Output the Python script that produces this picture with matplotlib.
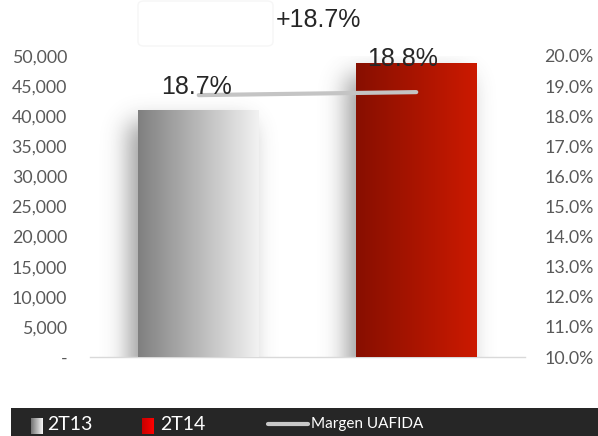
import numpy as np
import matplotlib
matplotlib.use("Agg")
import matplotlib.pyplot as plt
from matplotlib.patches import Rectangle, FancyBboxPatch
from matplotlib.ticker import FuncFormatter, MultipleLocator
from math import erf

# ---- data ----
categories = ["2T13", "2T14"]
uafida = [41000, 48700]
margin = [0.187, 0.188]
margin_labels = ["18.7%", "18.8%"]
growth_label = "+18.7%"
line_label = "Margen UAFIDA"

W, H = 598, 436
fig = plt.figure(figsize=(W / 100, H / 100), dpi=100)
fig.patch.set_facecolor("white")

def fx(px):
    return px / W

def fy(py):
    return 1 - py / H

ax = fig.add_axes([fx(90), fy(357), fx(525) - fx(90), fy(56) - fy(357)])
ax.set_xlim(-0.5, 1.5)
ax.set_ylim(0, 50000)
ax.set_facecolor("none")
for s in ["top", "right", "left"]:
    ax.spines[s].set_visible(False)
ax.spines["bottom"].set_color("#d9d9d9")
ax.spines["bottom"].set_linewidth(1)
ax.set_xticks([])
ax.yaxis.set_major_locator(MultipleLocator(5000))
ax.yaxis.set_major_formatter(FuncFormatter(lambda v, p: "-" if v == 0 else f"{v:,.0f}"))
ax.tick_params(axis="y", length=0, pad=16.5, labelsize=12.8, labelcolor="#595959")
for t in ax.get_yticklabels():
    t.set_fontfamily("Lato")

x = np.arange(len(categories))
bw = 0.555
bars = ax.bar(x, uafida, width=bw, color="none", edgecolor="none", zorder=3)

grad_colors = [((0.50, 0.50, 0.50), (0.95, 0.95, 0.95)),
               ((0.53, 0.06, 0.0), (0.80, 0.10, 0.0))]

def Phi(z):
    return 0.5 * (1 + np.vectorize(erf)(z / np.sqrt(2)))

pxx = 217.5  # pixels per x unit
pxy = 301.0 / 50000.0  # pixels per y unit

for b, (c0, c1) in zip(bars, grad_colors):
    x0, x1 = b.get_x(), b.get_x() + b.get_width()
    h = b.get_height()
    # soft shadow (blurred rectangle shifted left)
    sig = 12.0 / pxx
    sigy = 12.0 / pxy
    shift = 10.0 / pxx
    ext = (x0 - 0.3, x1 + 0.3, 0, min(h + 40 / pxy, 52000))
    gx = np.linspace(ext[0], ext[1], 300)
    gy = np.linspace(ext[2], ext[3], 200)
    sx0, sx1 = x0 - shift, x1 - shift
    ax_prof = Phi((gx - sx0) / sig) - Phi((gx - sx1) / sig)
    ay_prof = 1 - Phi((gy - (h - 12 / pxy)) / sigy)
    A = np.outer(ay_prof, ax_prof) * 0.55
    img = np.zeros((len(gy), len(gx), 4))
    img[..., :3] = 0.3
    img[..., 3] = A
    ax.imshow(img, extent=ext, origin="lower", aspect="auto", zorder=1,
              interpolation="bilinear")
    # gradient bar
    t = np.linspace(0, 1, 256)
    g = np.array([[c0[i] + (c1[i] - c0[i]) * tt for i in range(3)] for tt in t])
    ax.imshow(g[np.newaxis, :, :], extent=(x0, x1, 0, h), origin="lower",
              aspect="auto", zorder=3, interpolation="bilinear")
ax.set_xlim(-0.5, 1.5)
ax.set_ylim(0, 50000)

ax2 = ax.twinx()
ax2.set_ylim(0.10, 0.20)
ax2.set_xlim(-0.5, 1.5)
for s in ["top", "right", "left", "bottom"]:
    ax2.spines[s].set_visible(False)
ax2.yaxis.set_major_locator(MultipleLocator(0.01))
ax2.yaxis.set_major_formatter(FuncFormatter(lambda v, p: f"{v*100:.1f}%"))
ax2.tick_params(axis="y", length=0, pad=13.7, labelsize=12.8, labelcolor="#595959")
for t in ax2.get_yticklabels():
    t.set_fontfamily("Lato")
ax2.plot(x, margin, color="#c4c4c4", lw=3, solid_capstyle="round", zorder=5)

offsets = [(-2, -4), (-14, 21)]
for xi, m, lab, off in zip(x, margin, margin_labels, offsets):
    ax2.annotate(lab, (xi, m), xytext=off, textcoords="offset pixels",
                 ha="center", va="bottom", fontsize=18, color="#262626",
                 family="Liberation Sans", zorder=6)

fig.text(fx(318), fy(20), growth_label, ha="center", va="center",
         fontsize=18, color="#262626", family="Liberation Sans")

# faint box top left
fig.patches.append(FancyBboxPatch((fx(138), fy(46)), fx(273) - fx(138), fy(1) - fy(46),
                                  boxstyle="round,pad=0,rounding_size=0.01",
                                  transform=fig.transFigure, facecolor="white",
                                  edgecolor="#f6f6f6", lw=1.0, zorder=0))

# legend band
fig.patches.append(Rectangle((fx(11), 0), 1 - fx(11), fy(408), transform=fig.transFigure,
                             facecolor="#262626", edgecolor="none", zorder=1))
t = np.linspace(0, 1, 64)
lg1 = fig.add_axes([fx(31), fy(434), fx(43) - fx(31), fy(418) - fy(434)])
lg1.set_zorder(10)
c0, c1 = (0.45, 0.45, 0.45), (0.97, 0.97, 0.97)
lg1.imshow(np.array([[[c0[i] + (c1[i] - c0[i]) * tt for i in range(3)] for tt in t]]),
           aspect="auto", extent=(0, 1, 0, 1))
lg1.axis("off")
lg2 = fig.add_axes([fx(142), fy(434), fx(154) - fx(142), fy(418) - fy(434)])
lg2.set_zorder(10)
c0, c1 = (0.78, 0.0, 0.0), (1.0, 0.0, 0.0)
lg2.imshow(np.array([[[c0[i] + (c1[i] - c0[i]) * tt for i in range(3)] for tt in t]]),
           aspect="auto", extent=(0, 1, 0, 1))
lg2.axis("off")
fig.lines.append(plt.Line2D([fx(268), fx(308)], [fy(424), fy(424)], transform=fig.transFigure,
                            color="#c8c8c8", lw=3, solid_capstyle="round", zorder=3))
fig.text(fx(47), fy(424), categories[0], ha="left", va="center", fontsize=14,
         color="white", family="Lato", zorder=3)
fig.text(fx(160), fy(424), categories[1], ha="left", va="center", fontsize=14,
         color="white", family="Lato", zorder=3)
fig.text(fx(311), fy(424), line_label, ha="left", va="center", fontsize=11,
         color="white", family="Lato", zorder=3)

fig.savefig("out.png", dpi=100)
